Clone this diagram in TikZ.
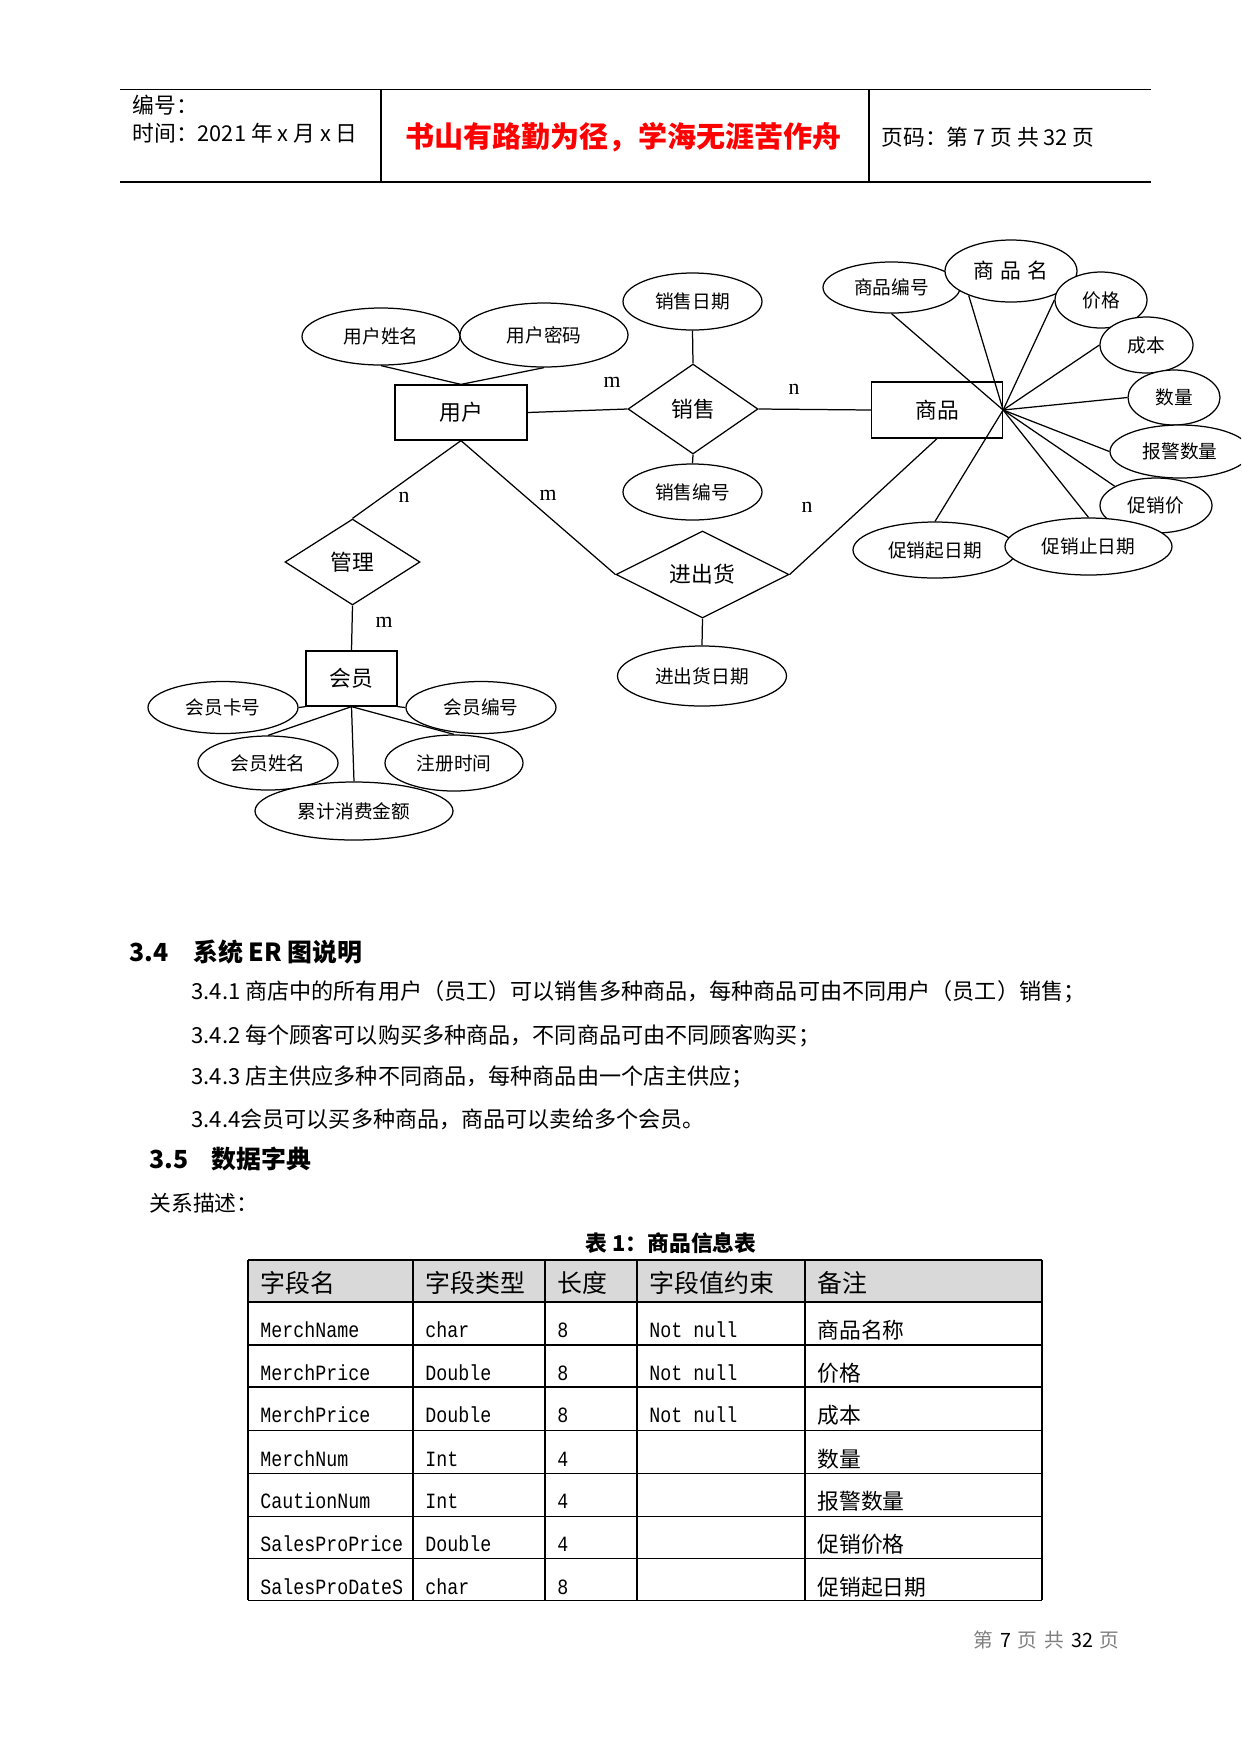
\documentclass[tikz,border=0pt]{standalone}
\usepackage{fontspec}
\setmainfont{Liberation Serif}
\newfontfamily\cjk{Noto Sans CJK SC}
\newfontfamily\mono[FakeStretch=0.84]{Liberation Mono}
\usetikzlibrary{shapes.geometric}
\newcommand{\pxl}{0.16933mm}
\newcommand{\fsz}[1]{\fontsize{#1pt}{#1pt}\selectfont}

\begin{document}
\begin{tikzpicture}[x=\pxl, y=-\pxl,
  txt/.style={inner sep=0pt, anchor=west, font=\cjk\fsz{10.5}},
  attr/.style={ellipse, draw, fill=white, line width=0.6pt, inner sep=0pt, font=\cjk\fsz{9}},
  ent/.style={rectangle, draw, fill=white, line width=0.6pt, inner sep=0pt, font=\cjk\fsz{10.5}},
  rel/.style={diamond, draw, fill=white, line width=0.6pt, inner sep=0pt, font=\cjk\fsz{10.5}},
  card/.style={inner sep=0pt, font=\fsz{10.5}},
  lig/.style={line width=0.6pt},
  sz/.style 2 args={minimum width=#1*\pxl, minimum height=#2*\pxl},
  grade/.style={line width=0.5pt},
  cab/.style={inner sep=0pt, anchor=west, font=\cjk\fsz{12}},
  cel/.style={inner sep=0pt, anchor=west, font=\mono\fsz{10.5}},
  celc/.style={inner sep=0pt, anchor=west, font=\cjk\fsz{10.5}}]

\useasboundingbox (0,0) rectangle (1241,1754);
\clip (0,0) rectangle (1241,1754);

% cabeçalho
\draw[grade] (120,89.5) -- (1151,89.5);
\draw[grade] (120,182) -- (1151,182);
\draw[grade] (381,89.5) -- (381,182);
\draw[grade] (869,89.5) -- (869,182);
\node[txt] (bianhao) at (132,105) {编号：};
\node[txt] (shijian) at (132,133) {时间：2021 年 x 月 x 日};
\node[inner sep=0pt, text=red, font=\cjk\bfseries\fsz{14}] (lema) at (623.5,137) {书山有路勤为径，学海无涯苦作舟};
\node[txt] (yema) at (881,137) {页码：第 7 页 共 32 页};

% entidades
\node[ent, sz={132}{55}] (usuario) at (461,412.5) {用户};
\node[ent, sz={131}{56}] (produto) at (937,410) {商品};
\node[ent, sz={91}{55}] (membro) at (351.5,678.5) {会员};

% relacionamentos
\node[rel, sz={130}{90}] (venda) at (693,409) {销售};
\node[rel, sz={135}{86}] (gestao) at (352.5,562) {管理};
\node[rel, sz={173}{87}] (estoque) at (702.5,574.5) {进出货};

% atributos
\node[attr, sz={158}{57}] (unome) at (381,336.5) {用户姓名};
\node[attr, sz={168}{64}] (usenha) at (544,335) {用户密码};
\node[attr, sz={139}{57}] (vdata) at (692.5,301.5) {销售日期};
\node[attr, sz={139}{56}] (vnum) at (692.5,492) {销售编号};
\node[attr, sz={169}{60}] (edata) at (702,676) {进出货日期};
\node[attr, sz={137}{51}] (pnum) at (891.5,287.5) {商品编号};
\node[attr, sz={132}{62}, font=\cjk\fsz{10}] (pnome) at (1011,271) {商\hspace{0.3em}品\hspace{0.3em}名};
\node[attr, sz={92}{56}] (preco) at (1101,300) {价格};
\node[attr, sz={93}{56}] (custo) at (1146.5,345) {成本};
\node[attr, sz={92}{55}] (qtd) at (1174,397.5) {数量};
\node[attr, sz={140}{53}] (alerta) at (1180,451.5) {报警数量};
\node[attr, sz={112}{55}] (promo) at (1156,505.5) {促销价};
\node[attr, sz={164}{56}] (pini) at (935,550) {促销起日期};
\node[attr, sz={167}{57}] (pfim) at (1088.5,546.5) {促销止日期};
\node[attr, sz={150}{52}] (mcartao) at (223,707.5) {会员卡号};
\node[attr, sz={150}{52}] (mnum) at (481,707.5) {会员编号};
\node[attr, sz={140}{54}] (mnome) at (268,763) {会员姓名};
\node[attr, sz={138}{56}] (mreg) at (454,763) {注册时间};
\node[attr, sz={198}{58}] (mtotal) at (354,811) {累计消费金额};

% cardinalidades
\node[card] (c1) at (612,382) {m};
\node[card] (c2) at (794,389) {n};
\node[card] (c3) at (404,497) {n};
\node[card] (c4) at (548,495) {m};
\node[card] (c5) at (384,622) {m};
\node[card] (c6) at (807,507) {n};

% ligações
\draw[lig] (unome.south) -- (usuario.north);
\draw[lig] (usenha.south) -- (usuario.north);
\draw[lig] (vdata.south) -- (venda.north);
\draw[lig] (venda.south) -- (vnum.north);
\draw[lig] (usuario.east) -- (venda.west);
\draw[lig] (venda.east) -- (produto.west);
\draw[lig] (usuario.south) -- (gestao.north);
\draw[lig] (usuario.south) -- (estoque.west);
\draw[lig] (produto.south) -- (estoque.east);
\draw[lig] (estoque.south) -- (edata.north);
\draw[lig] (gestao.south) -- (membro.north);
\foreach \a in {pnum.south, pnome.210, preco.west, custo.west, qtd.west, alerta.west, promo.155, pfim.north, pini.north}
  \draw[lig] (produto.east) -- (\a);
\draw[lig] (mcartao.east) -- (membro.south west);
\draw[lig] (membro.south east) -- (mnum.west);
\foreach \a in {mnome, mreg, mtotal}
  \draw[lig] (membro.south) -- (\a.north);

% texto
\node[txt, font=\cjk\bfseries\fsz{12}] (s34a) at (129,952) {3.4};
\node[txt, font=\cjk\bfseries\fsz{12}] (s34b) at (193,952) {系统 ER 图说明};
\node[txt, font=\cjk\fsz{10.65}] (l1) at (191,992) {3.4.1 商店中的所有用户（员工）可以销售多种商品，每种商品可由不同用户（员工）销售；};
\node[txt, font=\cjk\fsz{10.65}] (l2) at (191,1036) {3.4.2 每个顾客可以购买多种商品，不同商品可由不同顾客购买；};
\node[txt, font=\cjk\fsz{10.65}] (l3) at (191,1077) {3.4.3 店主供应多种不同商品，每种商品由一个店主供应；};
\node[txt, font=\cjk\fsz{10.65}] (l4) at (191,1119) {3.4.4会员可以买多种商品，商品可以卖给多个会员。};
\node[txt, font=\cjk\bfseries\fsz{12}] (s35a) at (149,1159) {3.5};
\node[txt, font=\cjk\bfseries\fsz{12}] (s35b) at (211,1159) {数据字典};
\node[txt] (rel) at (149,1203) {关系描述：};
\node[inner sep=0pt, font=\cjk\bfseries\fsz{10.5}] (legenda) at (671,1243) {表 1：商品信息表};

% tabela
\fill[gray!30] (248,1260) rectangle (1042,1302);
\foreach \y in {1302,1345,1387,1430,1473,1516,1558,1600}
  \draw[grade] (248,\y) -- (1042,\y);
\foreach \x in {248,413,545,637,805,1042}
  \draw[grade] (\x,1260) -- (\x,1600);
\draw[line width=1.2pt] (248,1260) -- (1042,1260);
\foreach \x/\t [count=\i] in {260/字段名, 425/字段类型, 557/长度, 649/字段值约束, 817/备注}
  \node[cab] (cab\i) at (\x,1283) {\t};
\foreach \y/\a/\b/\c/\e [count=\i] in {1330/MerchName/char/8/商品名称, 1373/MerchPrice/Double/8/价格, 1415/MerchPrice/Double/8/成本, 1459/MerchNum/Int/4/数量, 1501/CautionNum/Int/4/报警数量, 1544/SalesProPrice/Double/4/促销价格, 1587/SalesProDateS/char/8/促销起日期}
{
  \node[cel] (na\i) at (260,\y) {\a};
  \node[cel] (ti\i) at (425,\y) {\b};
  \node[cel] (co\i) at (557,\y) {\c};
  \node[celc] (ob\i) at (817,\y) {\e};
}
\foreach \y [count=\i] in {1330,1373,1415}
  \node[cel] (re\i) at (649,\y) {Not null};

% rodapé
\node[txt, font=\cjk\fsz{9.5}] (rodape) at (973,1640) {\textcolor{gray}{第}\hspace{0.35em}7\hspace{0.35em}\textcolor{gray}{页}\hspace{0.35em}\textcolor{gray}{共}\hspace{0.35em}32\hspace{0.35em}\textcolor{gray}{页}};

\end{tikzpicture}
\end{document}
